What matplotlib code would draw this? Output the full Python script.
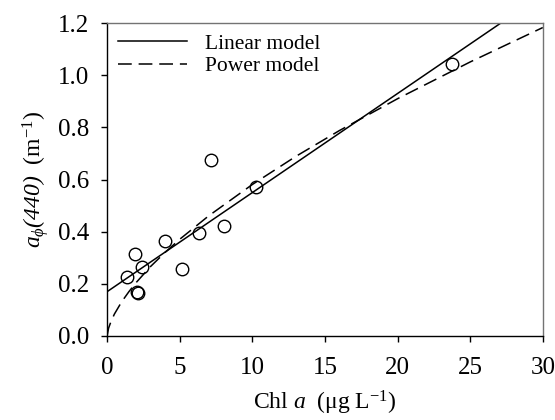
"""plot.py — a_phi(440) vs Chl a with linear and power model fits."""
import matplotlib

matplotlib.use("Agg")
import matplotlib.pyplot as plt

plt.rcParams["font.family"] = ["Liberation Serif", "DejaVu Serif"]
plt.rcParams["mathtext.fontset"] = "custom"
plt.rcParams["mathtext.rm"] = "Liberation Serif"
plt.rcParams["mathtext.it"] = "Liberation Serif:italic"
# 'it' forces digits upright, so borrow the sf slot for italic digits
plt.rcParams["mathtext.sf"] = "Liberation Serif:italic"

# ── data ───────────────────────────────────────────────────────────
chl = [1.39, 1.9, 2.05, 2.12, 2.38, 3.98, 5.17, 6.36, 7.18, 8.05, 10.27, 23.77]
a_phi = [0.227, 0.313, 0.170, 0.163, 0.265, 0.365, 0.256, 0.394, 0.675, 0.422, 0.570, 1.042]

# linear model, end points as drawn
linear_x = [0, 30]
linear_y = [0.170, 1.310]

# power model, points
power_x = [0, 0.1, 0.25, 0.5, 1, 1.5, 2, 3, 4, 5, 7, 10, 13, 16, 20, 25, 30]
power_y = [0, 0.030, 0.053, 0.084, 0.131, 0.170, 0.205, 0.267, 0.321, 0.371,
           0.461, 0.581, 0.689, 0.788, 0.910, 1.051, 1.183]

x_ticks = [0, 5, 10, 15, 20, 25, 30]
y_ticks = [0.0, 0.2, 0.4, 0.6, 0.8, 1.0, 1.2]
y_tick_labels = ["0.0", "0.2", "0.4", "0.6", "0.8", "1.0", "1.2"]


def main():
    fig = plt.figure(figsize=(5.55, 4.2), dpi=100)
    ax = fig.add_axes([0.193, 0.2, 0.785, 0.745])

    ax.plot(linear_x, linear_y, color="black", lw=1.1, label="Linear model")
    ax.plot(power_x, power_y, color="black", lw=1.1, dashes=(9, 4.5), label="Power model")
    ax.plot(chl, a_phi, linestyle="none", marker="o", ms=9, mfc="none", mec="black", mew=1.0)

    ax.set_xlim(0, 30)
    ax.set_ylim(0, 1.2)
    ax.set_xticks(x_ticks)
    ax.set_yticks(y_ticks)
    ax.set_yticklabels(y_tick_labels)
    ax.tick_params(direction="out", length=4, width=1, labelsize=18,
                   top=False, right=False)
    ax.tick_params(axis="x", pad=11)
    ax.tick_params(axis="y", pad=9)

    for side in ("top", "right"):
        ax.spines[side].set_color("0.45")
    for spine in ax.spines.values():
        spine.set_linewidth(1.0)

    ax.set_xlabel("Chl $a$  (\u03bcg L$^{-1}$)", fontsize=17, labelpad=7)
    ax.set_ylabel(r"$a_{\phi}\mathsf{(440)}$  (m$^{-1}$)", fontsize=17, labelpad=5)

    ax.legend(loc="upper left", frameon=False, fontsize=15.5, handlelength=3.2,
              handletextpad=0.85, labelspacing=0.1, borderaxespad=0.2, borderpad=0.3)

    fig.savefig("out.png", dpi=100)
    plt.close(fig)


if __name__ == "__main__":
    main()
